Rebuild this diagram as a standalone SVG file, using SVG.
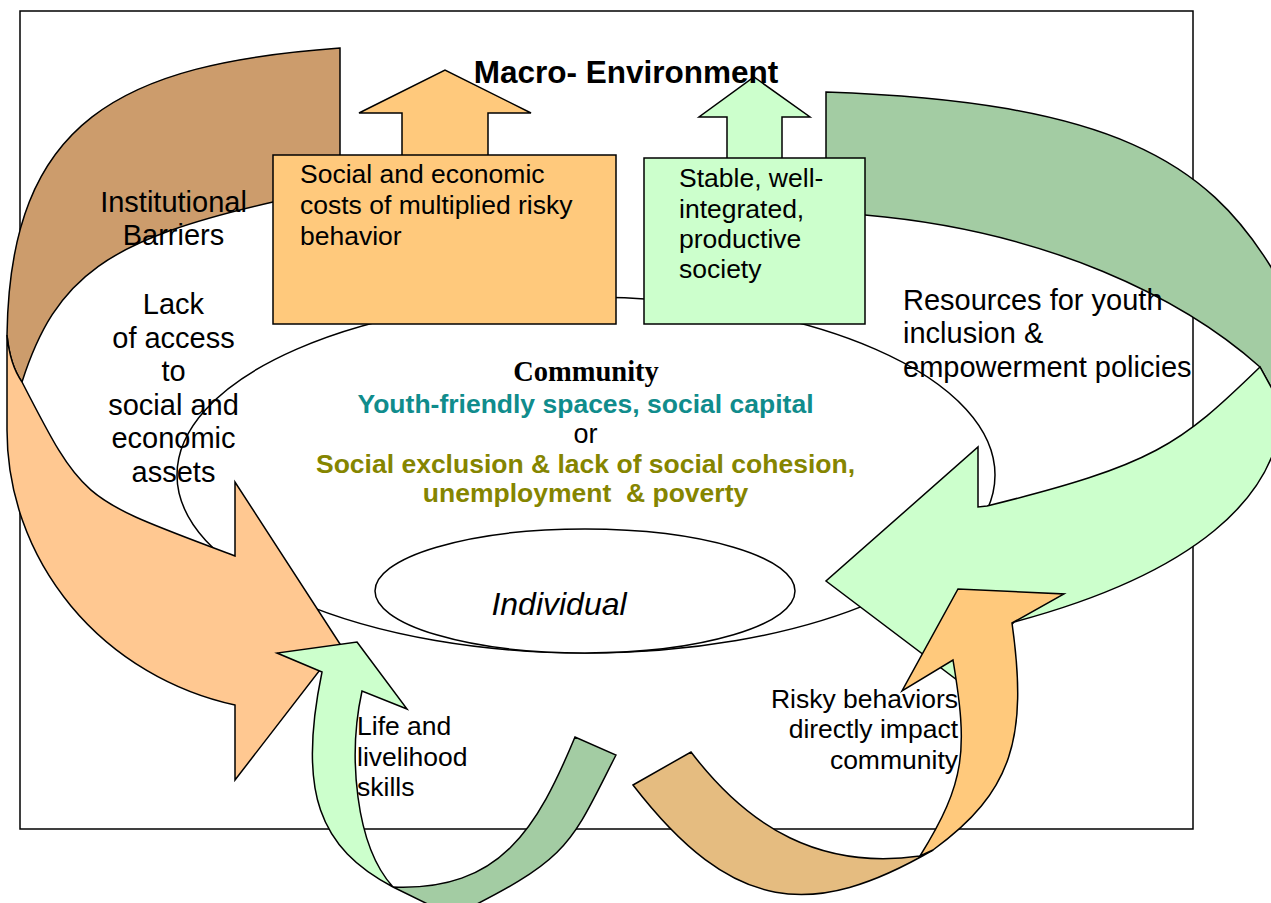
<svg xmlns="http://www.w3.org/2000/svg" width="1271" height="903" viewBox="0 0 1271 903">
<style>
.s{stroke:#000;stroke-width:1.5;stroke-linejoin:miter}
.t{font-family:"Liberation Sans",Arial,sans-serif;fill:#000}
.lbl{font-size:29px}
.box{font-size:26.5px}
.mid{text-anchor:middle}
.brown{fill:#CC9C6C}
.peach{fill:#FFC891}
.orange{fill:#FFC97C}
.tan{fill:#E5BC80}
.dgreen{fill:#A3CCA3}
.lgreen{fill:#CCFFCC}
</style>
<rect width="1271" height="903" fill="#fff"/>
<g id="macro-environment">
<rect x="20" y="11" width="1173" height="818" fill="none" class="s"/>
</g>
<g id="community">
<ellipse cx="586" cy="475" rx="409" ry="178" fill="none" class="s"/>
</g>
<g id="connectors">
<g id="arrow-institutional-barriers">
<path class="s brown" d="M340,48 C120,64 10,120 7,335 Q10,365 22,382 C56,276 108,239.5 273,202 L340,190 Z"/>
<path class="s peach" d="M7,335 L7,430 A293,282 0 0 0 235,705 L235,780 L340,644 L235,482 L235,556 C82,498 85,504.5 22,382 Q10,365 7,335 Z"/>
</g>
<g id="arrow-life-skills">
<path class="s dgreen" d="M393,887 C501,891.5 537.5,827 575,737 L616,755 C570,845 571,858 455,915 L450,915 Z"/>
<path class="s lgreen" d="M357,642 L407,709 L362,691 C348,755 355,845 393,887 C319.4,848.6 297,792 322,672 L277,653 Z"/>
</g>
<g id="arrow-resources">
<path class="s dgreen" d="M826,92 C1114,101.6 1207,163.6 1271,267 L1300,330 L1282,407 L1260,367 C1184,299 1049,231 865,215 L826,212 Z"/>
<path class="s lgreen" d="M1260,367 L1282,407 C1280,497 1194,574 1014,622 L961,683 L826,581 L978,447 L978,507 L987,506 C1154.4,464.6 1179.6,445 1260,367 Z"/>
</g>
<g id="arrow-risky-behaviors">
<path class="s tan" d="M633,785 L691,752 C749,828 820,870 920,856 L933,850 C813,919.6 733,914.6 633,785 Z"/>
<path class="s orange" d="M920,856 C966,782 968,750 953,660 L902,691 L958,589 L1064,594 L1012,623 C1028,737 1013,792 933,850 Z"/>
</g>
</g>
<g id="box-costs">
<path class="s orange" d="M402,160 L402,113 L359,113 L445,70 L531,113 L488,113 L488,160 Z"/>
<rect x="273" y="155" width="343" height="169" class="s orange"/>
<text class="t box"><tspan x="300" y="183">Social and economic</tspan><tspan x="300" y="214">costs of multiplied risky</tspan><tspan x="300" y="245">behavior</tspan></text>
</g>
<g id="box-society">
<path class="s lgreen" d="M727,163 L727,117 L699,117 L754,77 L810,117 L782,117 L782,163 Z"/>
<rect x="644" y="158" width="221" height="166" class="s lgreen"/>
<text class="t box"><tspan x="679" y="187">Stable, well-</tspan><tspan x="679" y="218">integrated,</tspan><tspan x="679" y="248">productive</tspan><tspan x="679" y="278">society</tspan></text>
</g>
<g id="individual">
<ellipse cx="585" cy="591" rx="210" ry="62" fill="#fff" class="s"/>
<text class="t mid" x="559" y="615" font-size="32" font-style="italic">Individual</text>
</g>
<g id="community-text">
<text x="586" y="381" text-anchor="middle" font-family="'Liberation Serif','Times New Roman',serif" font-weight="bold" font-size="28.5">Community</text>
<text class="t box mid" x="585.5" y="413" font-weight="bold" style="fill:#108C8C">Youth-friendly spaces, social capital</text>
<text class="t mid" x="585.5" y="443" font-size="27">or</text>
<text class="t box mid" x="585.5" y="473" font-weight="bold" style="fill:#858500">Social exclusion &amp; lack of social cohesion,</text>
<text class="t box mid" x="585.5" y="502" font-weight="bold" style="fill:#858500;white-space:pre">unemployment  &amp; poverty</text>
</g>
<g id="title">
<text class="t mid" x="626" y="83" font-size="31.5" font-weight="bold">Macro- Environment</text>
</g>
<g id="labels">
<text class="t lbl mid"><tspan x="173.5" y="212">Institutional</tspan><tspan x="173.5" y="245">Barriers</tspan></text>
<text class="t lbl mid"><tspan x="173.5" y="314">Lack</tspan><tspan x="173.5" y="347.5">of access</tspan><tspan x="173.5" y="381">to</tspan><tspan x="173.5" y="414.5">social and</tspan><tspan x="173.5" y="448">economic</tspan><tspan x="173.5" y="481.5">assets</tspan></text>
<text class="t lbl"><tspan x="903" y="310">Resources for youth</tspan><tspan x="903" y="343">inclusion &amp;</tspan><tspan x="903" y="377">empowerment policies</tspan></text>
<text class="t box"><tspan x="357" y="735">Life and</tspan><tspan x="357" y="766">livelihood</tspan><tspan x="357" y="796">skills</tspan></text>
<text class="t box" text-anchor="end"><tspan x="958" y="708">Risky behaviors</tspan><tspan x="958" y="738">directly impact</tspan><tspan x="958" y="769">community</tspan></text>
</g>
</svg>
